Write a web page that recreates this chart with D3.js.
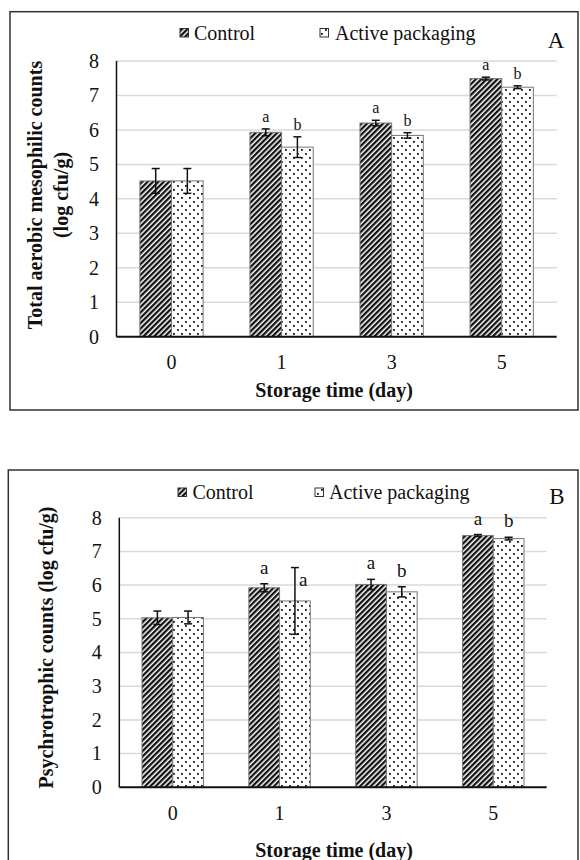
<!DOCTYPE html>
<html><head><meta charset="utf-8">
<script src="https://cdn.jsdelivr.net/npm/d3@7/dist/d3.min.js"></script>
<style>body{margin:0;background:#fff} svg{display:block} text{font-family:"Liberation Serif","Times New Roman","DejaVu Serif",serif;fill:#111}</style>
</head><body><svg id="c" width="580" height="860" font-family="Liberation Serif, Times New Roman, DejaVu Serif, serif"></svg>
<script>
const categories = ["0","1","3","5"];
const seriesNames = ["Control","Active packaging"];
const yTicks = [0,1,2,3,4,5,6,7,8];
const aControl = [4.52,5.93,6.20,7.49];
const aControlErr = [0.36,0.10,0.08,0.04];
const aActive = [4.52,5.50,5.84,7.24];
const aActiveErr = [0.36,0.30,0.08,0.04];
const aControlLetters = ["","a","a","a"];
const aActiveLetters = ["","b","b","b"];
const bControl = [5.03,5.92,6.02,7.47];
const bControlErr = [0.20,0.12,0.15,0.03];
const bActive = [5.04,5.53,5.80,7.38];
const bActiveErr = [0.19,0.99,0.15,0.04];
const bControlLetters = ["","a","a","a"];
const bActiveLetters = ["","a","b","b"];
const xTitle = "Storage time (day)";
const aYTitle = ["Total aerobic mesophilic counts","(log cfu/g)"];
const bYTitle = ["Psychrotrophic counts (log cfu/g)"];

const svg = d3.select("#c");
const defs = svg.append("defs");
const stripe = defs.append("pattern").attr("id","stripe").attr("patternUnits","userSpaceOnUse")
  .attr("width",3.8).attr("height",3.8).attr("patternTransform","rotate(45)");
stripe.append("rect").attr("width",3.8).attr("height",3.8).attr("fill","#fff");
stripe.append("rect").attr("width",2.3).attr("height",3.8).attr("fill","#111");
const dots = defs.append("pattern").attr("id","dots").attr("patternUnits","userSpaceOnUse")
  .attr("width",8).attr("height",8);
dots.append("rect").attr("width",8).attr("height",8).attr("fill","#fff");
dots.append("rect").attr("x",1).attr("y",1).attr("width",1.8).attr("height",1.8).attr("fill","#111");
dots.append("rect").attr("x",5).attr("y",5).attr("width",1.8).attr("height",1.8).attr("fill","#111");
const fills = ["url(#stripe)","url(#dots)"];

function panel(cfg){
  const g = svg.append("g");
  g.append("rect").attr("x",cfg.frame[0]).attr("y",cfg.frame[1]).attr("width",cfg.frame[2]).attr("height",cfg.frame[3])
    .attr("fill","none").attr("stroke","#333").attr("stroke-width",1.5);
  const y = d3.scaleLinear().domain([0,8]).range([cfg.bottom,cfg.top]);
  const x0 = d3.scaleBand().domain(categories).range([cfg.left,cfg.right]).paddingInner(0.425).paddingOuter(0.2125);
  const x1 = d3.scaleBand().domain(seriesNames).range([0,x0.bandwidth()]);
  g.append("g").selectAll("line").data(yTicks.filter(t=>t>0)).join("line")
    .attr("x1",cfg.left).attr("x2",cfg.right).attr("y1",d=>y(d)).attr("y2",d=>y(d))
    .attr("stroke","#d9d9d9").attr("stroke-width",1.5);
  g.append("g").selectAll("text").data(yTicks).join("text")
    .attr("x",cfg.left-17.5).attr("y",d=>y(d)).attr("dy","0.34em").attr("text-anchor","end")
    .attr("font-size",20).text(d=>d);
  const series = [
    {name:seriesNames[0], vals:cfg.c, errs:cfg.ce, letters:cfg.cl},
    {name:seriesNames[1], vals:cfg.a, errs:cfg.ae, letters:cfg.al}
  ];
  series.forEach((s,si)=>{
    g.append("g").selectAll("rect").data(categories).join("rect")
      .attr("x",(c)=>x0(c)+x1(s.name)).attr("width",x1.bandwidth())
      .attr("y",(c,i)=>y(s.vals[i])).attr("height",(c,i)=>y(0)-y(s.vals[i]))
      .attr("fill",fills[si]).attr("stroke","#777").attr("stroke-width",1);
  });
  series.forEach((s,si)=>{
    const eg = g.append("g").attr("stroke","#111").attr("stroke-width",1.5);
    categories.forEach((c,i)=>{
      const cx = x0(c)+x1(s.name)+x1.bandwidth()/2;
      const t = y(s.vals[i]+s.errs[i]), b = y(s.vals[i]-s.errs[i]);
      eg.append("line").attr("x1",cx).attr("x2",cx).attr("y1",t).attr("y2",b);
      eg.append("line").attr("x1",cx-4).attr("x2",cx+4).attr("y1",t).attr("y2",t);
      eg.append("line").attr("x1",cx-4).attr("x2",cx+4).attr("y1",b).attr("y2",b);
      const L = s.letters[i];
      if(L){
        if(s.errs[i] > 0.5){
          g.append("text").attr("x",cx+4).attr("y",y(s.vals[i])-15).attr("font-size",cfg.letterSize).text(L);
        } else {
          g.append("text").attr("x",cx).attr("y",t-cfg.letterGap).attr("text-anchor","middle").attr("font-size",cfg.letterSize).text(L);
        }
      }
    });
  });
  g.append("line").attr("x1",cfg.left).attr("x2",cfg.left).attr("y1",cfg.top).attr("y2",cfg.bottom).attr("stroke","#111").attr("stroke-width",1.5);
  g.append("line").attr("x1",cfg.left).attr("x2",cfg.right).attr("y1",cfg.bottom).attr("y2",cfg.bottom).attr("stroke","#111").attr("stroke-width",2);
  g.append("g").selectAll("text").data(categories).join("text")
    .attr("x",c=>x0(c)+x0.bandwidth()/2).attr("y",cfg.xTickY).attr("text-anchor","middle").attr("font-size",20).text(c=>c);
  g.append("text").attr("x",cfg.xTitleX).attr("y",cfg.xTitleY).attr("text-anchor","middle").attr("font-size",20).attr("font-weight","bold").text(xTitle);
  cfg.yTitle.forEach((t,i)=>{
    g.append("text").attr("transform",`translate(${cfg.yTitleX[i]},${cfg.yTitleY}) rotate(-90)`)
      .attr("text-anchor","middle").attr("font-size",20).attr("font-weight","bold").text(t);
  });
  seriesNames.forEach((n,i)=>{
    g.append("rect").attr("x",cfg.legSw[i]).attr("y",cfg.legY-4.5).attr("width",8.5).attr("height",8.5)
      .attr("fill",fills[i]).attr("stroke","#333").attr("stroke-width",1);
    g.append("text").attr("x",cfg.legTx[i]).attr("y",cfg.legY).attr("dy","0.34em").attr("font-size",20).text(n);
  });
  g.append("text").attr("x",cfg.label[0]).attr("y",cfg.label[1]).attr("text-anchor","middle").attr("font-size",23).text(cfg.labelText);
}

panel({frame:[10,11.7,568,398.3], left:116.5,right:556.7,top:61,bottom:336.7,
  c:aControl,ce:aControlErr,a:aActive,ae:aActiveErr,cl:aControlLetters,al:aActiveLetters,
  letterSize:16,letterGap:7,xTickY:368.5,xTitleX:334,xTitleY:396.5,yTitle:aYTitle,yTitleX:[41.7,68],yTitleY:195,
  legY:33,legSw:[180,320],legTx:[194,335],label:[556,48],labelText:"A"});
panel({frame:[8.3,470,569.7,396], left:119.3,right:546.7,top:517.7,bottom:787.3,
  c:bControl,ce:bControlErr,a:bActive,ae:bActiveErr,cl:bControlLetters,al:bActiveLetters,
  letterSize:19,letterGap:10,xTickY:820,xTitleX:334,xTitleY:856.5,yTitle:bYTitle,yTitleX:[53],yTitleY:647.5,
  legY:492.5,legSw:[178,315],legTx:[192.4,329],label:[557,504],labelText:"B"});
</script></body></html>
